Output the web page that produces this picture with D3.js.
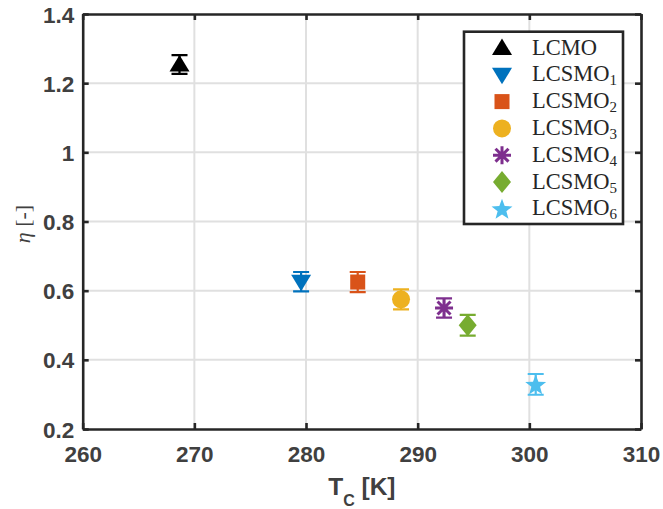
<!DOCTYPE html>
<html>
<head>
<meta charset="utf-8">
<script src="https://cdn.jsdelivr.net/npm/d3@7"></script>
<style>
  html, body { margin: 0; padding: 0; background: #fff; }
  svg { display: block; }
</style>
</head>
<body>
<svg id="chart" width="663" height="509"></svg>
<script>
// ---- data ----
const names = ["LCMO", "LCSMO", "LCSMO", "LCSMO", "LCSMO", "LCSMO", "LCSMO"];
const subs = ["", "1", "2", "3", "4", "5", "6"];
const tc = [268.67, 279.56, 284.63, 288.51, 292.36, 294.48, 300.57];
const eta = [1.254, 0.626, 0.625, 0.575, 0.550, 0.500, 0.329];
const err = [0.027, 0.028, 0.029, 0.029, 0.028, 0.030, 0.030];
const colors = ["#000000", "#0072BD", "#D95319", "#EDB120", "#7E2F8E", "#77AC30", "#4DBEEE"];
const shapes = ["triangle-up", "triangle-down", "square", "circle", "asterisk", "diamond", "star"];
const xTicks = [260, 270, 280, 290, 300, 310];
const yTicks = [0.2, 0.4, 0.6, 0.8, 1.0, 1.2, 1.4];

// ---- layout ----
const L = 82.7, R = 641, T = 14, B = 429;
const svg = d3.select("#chart");
const x = d3.scaleLinear().domain([260, 310]).range([L, R]);
const y = d3.scaleLinear().domain([0.2, 1.4]).range([B, T]);
const axisColor = "#262626";
const labelColor = "#404040";

// grid
const grid = svg.append("g");
grid.selectAll("line.gx").data(xTicks.slice(1, -1)).join("line")
  .attr("x1", d => x(d)).attr("x2", d => x(d)).attr("y1", T).attr("y2", B)
  .attr("stroke", "#e0e0e0").attr("stroke-width", 2);
grid.selectAll("line.gy").data(yTicks.slice(1, -1)).join("line")
  .attr("x1", L).attr("x2", R).attr("y1", d => y(d)).attr("y2", d => y(d))
  .attr("stroke", "#e0e0e0").attr("stroke-width", 2);

function styleAxis(g) {
  g.select(".domain").attr("stroke", axisColor).attr("stroke-width", 2.6);
  g.selectAll(".tick line").attr("stroke", axisColor).attr("stroke-width", 2.6);
  g.selectAll(".tick text").attr("fill", labelColor)
    .style("font-family", "'Liberation Sans', Arial, sans-serif")
    .style("font-weight", "bold").style("font-size", "22.5px");
}
const fmt = d => String(+d.toFixed(1));

svg.append("g").attr("transform", `translate(0,${B})`)
  .call(d3.axisBottom(x).tickValues(xTicks).tickSizeInner(-6).tickSizeOuter(0).tickPadding(17.5).tickFormat(fmt))
  .call(styleAxis);
svg.append("g").attr("transform", `translate(${L},0)`)
  .call(d3.axisLeft(y).tickValues(yTicks).tickSizeInner(-6).tickSizeOuter(0).tickPadding(8.5).tickFormat(fmt))
  .call(styleAxis)
  .selectAll(".tick text").attr("dy", "0.36em");
svg.append("g").attr("transform", `translate(0,${T})`)
  .call(d3.axisTop(x).tickValues(xTicks).tickSizeInner(-6).tickSizeOuter(0).tickFormat(""))
  .call(styleAxis);
svg.append("g").attr("transform", `translate(${R},0)`)
  .call(d3.axisRight(y).tickValues(yTicks).tickSizeInner(-6).tickSizeOuter(0).tickFormat(""))
  .call(styleAxis);

// axis labels
const xl = svg.append("text")
  .attr("x", (L + R) / 2).attr("y", 495).attr("text-anchor", "middle")
  .attr("fill", labelColor)
  .style("font-family", "'Liberation Sans', Arial, sans-serif")
  .style("font-weight", "bold").style("font-size", "24.5px");
xl.append("tspan").text("T");
xl.append("tspan").attr("dy", 11).style("font-size", "16px").text("C");
xl.append("tspan").attr("dy", -11).text(" [K]");

const yl = svg.append("text")
  .attr("transform", "translate(30,224) rotate(-90)")
  .attr("text-anchor", "middle").attr("fill", labelColor)
  .style("font-family", "'Liberation Serif', 'Times New Roman', serif")
  .style("font-size", "22px");
yl.append("tspan").style("font-style", "italic").text("η");
yl.append("tspan").text(" [-]");

// markers
function drawMarker(g, shape, color, s) {
  s = s || 1;
  if (shape === "triangle-up") {
    const w = 10 * s, h = 16.5 * s;
    g.append("path").attr("d", `M0,${-h * 0.58}L${w},${h * 0.42}L${-w},${h * 0.42}Z`).attr("fill", color);
  } else if (shape === "triangle-down") {
    const w = 10 * s, h = 16.5 * s;
    g.append("path").attr("d", `M0,${h * 0.58}L${w},${-h * 0.42}L${-w},${-h * 0.42}Z`).attr("fill", color);
  } else if (shape === "square") {
    const a = 7.5 * s;
    g.append("rect").attr("x", -a).attr("y", -a).attr("width", 2 * a).attr("height", 2 * a).attr("fill", color);
  } else if (shape === "circle") {
    g.append("circle").attr("r", 9 * s).attr("fill", color);
  } else if (shape === "asterisk") {
    const r = 9 * s, d = r * 0.72;
    const p = `M${-r},0L${r},0M0,${-r}L0,${r}M${-d},${-d}L${d},${d}M${-d},${d}L${d},${-d}`;
    g.append("path").attr("d", p).attr("stroke", color).attr("stroke-width", 3).attr("fill", "none");
  } else if (shape === "diamond") {
    const w = 9 * s, h = 11 * s;
    g.append("path").attr("d", `M0,${-h}L${w},0L0,${h}L${-w},0Z`).attr("fill", color);
  } else if (shape === "star") {
    const ro = 11 * s, ri = 4.6 * s;
    let p = "";
    for (let k = 0; k < 10; k++) {
      const r = k % 2 === 0 ? ro : ri;
      const a = -Math.PI / 2 + k * Math.PI / 5;
      p += (k === 0 ? "M" : "L") + (r * Math.cos(a)).toFixed(2) + "," + (r * Math.sin(a) + 1).toFixed(2);
    }
    g.append("path").attr("d", p + "Z").attr("fill", color);
  }
}

const pts = svg.append("g");
tc.forEach((t, i) => {
  const cx = x(t), cy = y(eta[i]);
  const y1 = y(eta[i] + err[i]), y2 = y(eta[i] - err[i]);
  const g = pts.append("g");
  const cw = 8;
  g.append("path")
    .attr("d", `M${cx},${y1}L${cx},${y2}M${cx - cw},${y1}L${cx + cw},${y1}M${cx - cw},${y2}L${cx + cw},${y2}`)
    .attr("stroke", colors[i]).attr("stroke-width", 2.2).attr("fill", "none");
  const m = g.append("g").attr("transform", `translate(${cx},${cy})`);
  drawMarker(m, shapes[i], colors[i]);
});

// legend
const lg = svg.append("g");
lg.append("rect").attr("x", 464).attr("y", 31.7).attr("width", 159).attr("height", 192.3)
  .attr("fill", "#fff").attr("stroke", axisColor).attr("stroke-width", 2.6);
names.forEach((n, i) => {
  const ry = 48 + 26.8 * i;
  const m = lg.append("g").attr("transform", `translate(502,${ry})`);
  drawMarker(m, shapes[i], colors[i]);
  const tx = lg.append("text").attr("x", 532).attr("y", ry + 6.5)
    .attr("fill", "#262626")
    .style("font-family", "'Liberation Serif', 'Times New Roman', serif")
    .style("font-size", "22.5px");
  tx.append("tspan").text(n);
  if (subs[i]) tx.append("tspan").attr("dy", 4).style("font-size", "15px").text(subs[i]);
});
</script>
</body>
</html>
